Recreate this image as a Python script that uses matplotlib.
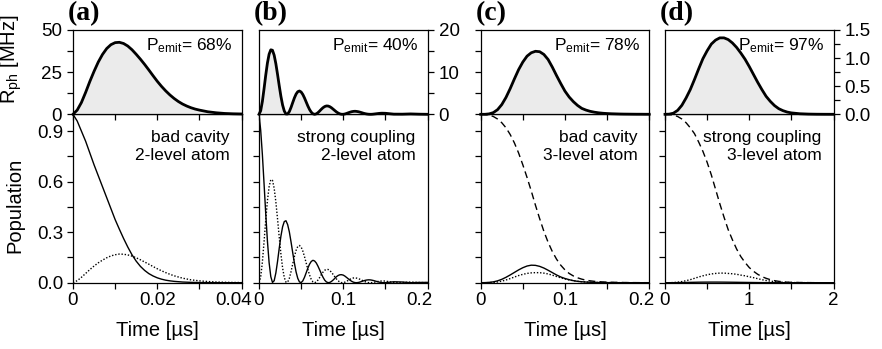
import matplotlib
matplotlib.use('Agg')
import matplotlib.pyplot as plt
from matplotlib.ticker import FixedLocator, NullFormatter
from matplotlib.transforms import ScaledTranslation

plt.rcParams['font.family'] = ['Liberation Sans', 'DejaVu Sans']
plt.rcParams['mathtext.fontset'] = 'custom'
plt.rcParams['mathtext.rm'] = 'Liberation Sans'
plt.rcParams['mathtext.it'] = 'Liberation Sans:italic'
plt.rcParams['mathtext.bf'] = 'Liberation Sans:bold'

# ---- (a) bad cavity, 2-level atom ----
t_a = [0.000, 0.001, 0.002, 0.003, 0.004, 0.005, 0.006, 0.007, 0.008, 0.009,
       0.010, 0.011, 0.012, 0.013, 0.014, 0.015, 0.016, 0.017, 0.018, 0.019,
       0.020, 0.021, 0.022, 0.023, 0.024, 0.025, 0.026, 0.027, 0.028, 0.029,
       0.030, 0.032, 0.034, 0.036, 0.038, 0.040]
rph_a = [0, 2.5, 7.0, 13.0, 19.5, 25.5, 31.0, 35.5, 39.0, 41.3,
         42.5, 42.7, 42.0, 40.5, 38.3, 35.6, 32.7, 29.6, 26.3, 22.9,
         19.6, 16.6, 13.9, 11.5, 9.4, 7.6, 6.1, 4.9, 3.9, 3.1,
         2.5, 1.5, 0.9, 0.5, 0.3, 0.2]
pe_a = [1.0, 0.96, 0.90, 0.84, 0.77, 0.70, 0.635, 0.57, 0.505, 0.44,
        0.375, 0.318, 0.263, 0.212, 0.166, 0.128, 0.097, 0.073, 0.054, 0.040,
        0.029, 0.021, 0.015, 0.011, 0.008, 0.006, 0.004, 0.003, 0.002, 0.0015,
        0.001, 0.0005, 0.0002, 0, 0, 0]
pc_a = [0, 0.012, 0.032, 0.055, 0.078, 0.099, 0.118, 0.134, 0.148, 0.159,
        0.166, 0.170, 0.169, 0.165, 0.158, 0.148, 0.136, 0.123, 0.110, 0.096,
        0.083, 0.071, 0.060, 0.050, 0.041, 0.034, 0.027, 0.022, 0.017, 0.014,
        0.011, 0.007, 0.004, 0.0025, 0.0015, 0.001]

# ---- (b) strong coupling, 2-level atom ----
t_b = [0.000, 0.002, 0.004, 0.006, 0.008, 0.010, 0.012, 0.014, 0.016, 0.018,
       0.020, 0.022, 0.024, 0.026, 0.028, 0.030, 0.032, 0.034, 0.036, 0.038,
       0.040, 0.042, 0.044, 0.046, 0.048, 0.050, 0.052, 0.054, 0.056, 0.058,
       0.060, 0.062, 0.064, 0.066, 0.068, 0.070, 0.072, 0.074, 0.076, 0.078,
       0.080, 0.082, 0.084, 0.086, 0.088, 0.090, 0.092, 0.094, 0.096, 0.098,
       0.100, 0.102, 0.104, 0.106, 0.108, 0.110, 0.112, 0.114, 0.116, 0.118,
       0.120, 0.122, 0.124, 0.126, 0.128, 0.130, 0.132, 0.134, 0.136, 0.138,
       0.140, 0.142, 0.144, 0.146, 0.148, 0.150, 0.160, 0.170, 0.180, 0.190,
       0.200]
rph_b = [0, 0.84, 3.05, 6.07, 9.29, 12.17, 14.26, 15.30, 15.19, 14.02,
         12.01, 9.48, 6.79, 4.27, 2.20, 0.78, 0.08, 0.08, 0.65, 1.62,
         2.77, 3.88, 4.79, 5.36, 5.53, 5.29, 4.71, 3.88, 2.92, 1.97,
         1.14, 0.51, 0.12, 0, 0.11, 0.39, 0.78, 1.20, 1.57, 1.84,
         1.98, 1.96, 1.81, 1.55, 1.22, 0.88, 0.55, 0.29, 0.10, 0.01,
         0.01, 0.08, 0.21, 0.36, 0.50, 0.62, 0.69, 0.72, 0.68, 0.61,
         0.50, 0.38, 0.25, 0.15, 0.07, 0.02, 0, 0.01, 0.05, 0.10,
         0.15, 0.20, 0.24, 0.26, 0.25, 0.24, 0.04, 0.03, 0.09, 0.03,
         0]
pe_b = [1.0, 0.906, 0.761, 0.588, 0.409, 0.247, 0.119, 0.036, 0.0014, 0.0116,
        0.058, 0.126, 0.204, 0.276, 0.332, 0.363, 0.368, 0.345, 0.302, 0.243,
        0.179, 0.117, 0.064, 0.026, 0.0046, 0.0005, 0.011, 0.032, 0.059, 0.087,
        0.110, 0.126, 0.133, 0.129, 0.117, 0.098, 0.076, 0.053, 0.032, 0.015,
        0.0047, 0.0002, 0.0015, 0.0074, 0.016, 0.026, 0.036, 0.043, 0.047, 0.0475,
        0.045, 0.039, 0.031, 0.023, 0.015, 0.0083, 0.0033, 0.0006, 0.0001, 0.0014,
        0.0042, 0.0077, 0.011, 0.014, 0.016, 0.017, 0.0167, 0.015, 0.0128, 0.0098,
        0.0068, 0.0041, 0.002, 0.0006, 0, 0.0002, 0.0055, 0.004, 0.0001, 0.0015,
        0.0019]
pc_b = [0, 0.034, 0.122, 0.243, 0.372, 0.487, 0.570, 0.612, 0.608, 0.561,
        0.480, 0.379, 0.271, 0.171, 0.088, 0.031, 0.0033, 0.0031, 0.026, 0.065,
        0.111, 0.155, 0.192, 0.215, 0.221, 0.212, 0.188, 0.155, 0.117, 0.079,
        0.046, 0.020, 0.0049, 0, 0.0043, 0.016, 0.031, 0.048, 0.063, 0.074,
        0.079, 0.0785, 0.0725, 0.062, 0.049, 0.035, 0.022, 0.011, 0.004, 0.0004,
        0.0004, 0.0034, 0.0084, 0.014, 0.020, 0.025, 0.028, 0.0286, 0.027, 0.024,
        0.020, 0.015, 0.010, 0.0059, 0.0026, 0.0006, 0, 0.0006, 0.002, 0.0041,
        0.0062, 0.0081, 0.0095, 0.0102, 0.0102, 0.0094, 0.0015, 0.0011, 0.0037, 0.0013,
        0.0001]

# ---- (c) bad cavity, 3-level atom ----
t_c = [0.000, 0.005, 0.010, 0.015, 0.020, 0.025, 0.030, 0.035, 0.040, 0.045,
       0.050, 0.055, 0.060, 0.065, 0.070, 0.075, 0.080, 0.085, 0.090, 0.095,
       0.100, 0.105, 0.110, 0.115, 0.120, 0.125, 0.130, 0.135, 0.140, 0.145,
       0.150, 0.155, 0.160, 0.165, 0.170, 0.175, 0.180, 0.185, 0.190, 0.195,
       0.200]
rph_c = [0, 0, 0.1, 0.4, 1.1, 2.3, 4.0, 6.1, 8.4, 10.6,
         12.4, 13.8, 14.6, 14.95, 14.85, 14.2, 13.0, 11.2, 9.2, 7.3,
         5.5, 4.1, 3.0, 2.1, 1.4, 1.0, 0.7, 0.5, 0.35, 0.25,
         0.18, 0.13, 0.1, 0.07, 0.05, 0.04, 0.03, 0.02, 0.02, 0.01,
         0.01]
pe_c = [0, 0.0005, 0.002, 0.005, 0.011, 0.02, 0.032, 0.046, 0.061, 0.076,
        0.089, 0.099, 0.104, 0.103, 0.097, 0.087, 0.074, 0.06, 0.046, 0.034,
        0.025, 0.018, 0.012, 0.008, 0.0055, 0.0038, 0.0025, 0.0017, 0.0011, 0.0007,
        0.0005, 0.0003, 0.0002, 0.0001, 0, 0, 0, 0, 0, 0,
        0]
pc_c = [0, 0, 0.0004, 0.0016, 0.0044, 0.0092, 0.016, 0.0244, 0.0336, 0.0424,
        0.0496, 0.0552, 0.0584, 0.0598, 0.0594, 0.0568, 0.052, 0.0448, 0.0368, 0.0292,
        0.022, 0.0164, 0.012, 0.0084, 0.0056, 0.004, 0.0028, 0.002, 0.0014, 0.001,
        0.0007, 0.0005, 0.0004, 0.0003, 0.0002, 0.0002, 0.0001, 0.0001, 0, 0,
        0]
pg_c = [1.0, 0.999, 0.995, 0.987, 0.972, 0.95, 0.92, 0.88, 0.83, 0.77,
        0.70, 0.625, 0.545, 0.46, 0.38, 0.305, 0.24, 0.185, 0.14, 0.104,
        0.076, 0.055, 0.04, 0.029, 0.021, 0.015, 0.011, 0.008, 0.006, 0.0045,
        0.0035, 0.0027, 0.002, 0.0015, 0.0011, 0.0008, 0.0006, 0.0004, 0.0003, 0.0002,
        0.0001]

# ---- (d) strong coupling, 3-level atom ----
t_d = [0.00, 0.05, 0.10, 0.15, 0.20, 0.25, 0.30, 0.35, 0.40, 0.45,
       0.50, 0.55, 0.60, 0.65, 0.70, 0.75, 0.80, 0.85, 0.90, 0.95,
       1.00, 1.05, 1.10, 1.15, 1.20, 1.25, 1.30, 1.35, 1.40, 1.45,
       1.50, 1.60, 1.70, 1.80, 1.90, 2.00]
rph_d = [0, 0.003, 0.02, 0.07, 0.16, 0.29, 0.44, 0.62, 0.81, 0.99,
         1.13, 1.25, 1.32, 1.36, 1.36, 1.33, 1.27, 1.19, 1.09, 0.98,
         0.85, 0.71, 0.57, 0.44, 0.32, 0.23, 0.155, 0.10, 0.065, 0.04,
         0.025, 0.01, 0.004, 0.0015, 0.0005, 0.0002]
pe_d = [0, 0, 0.0002, 0.0005, 0.001, 0.0015, 0.002, 0.0025, 0.003, 0.0033,
        0.0035, 0.0036, 0.0036, 0.0035, 0.0033, 0.003, 0.0027, 0.0024, 0.002, 0.0017,
        0.0014, 0.0011, 0.0008, 0.0006, 0.0004, 0.0003, 0.0002, 0.0001, 0, 0,
        0, 0, 0, 0, 0, 0]
pc_d = [0, 0.0001, 0.0008, 0.003, 0.0067, 0.012, 0.018, 0.026, 0.034, 0.041,
        0.047, 0.052, 0.055, 0.057, 0.057, 0.055, 0.053, 0.050, 0.045, 0.041,
        0.035, 0.030, 0.024, 0.018, 0.013, 0.0096, 0.0065, 0.0042, 0.0027, 0.0017,
        0.001, 0.0004, 0.0002, 0.0001, 0, 0]
pg_d = [1.0, 0.999, 0.995, 0.987, 0.972, 0.95, 0.92, 0.885, 0.835, 0.78,
        0.715, 0.64, 0.555, 0.47, 0.39, 0.315, 0.255, 0.2, 0.155, 0.12,
        0.09, 0.068, 0.05, 0.036, 0.026, 0.018, 0.012, 0.008, 0.005, 0.003,
        0.002, 0.001, 0.0005, 0, 0, 0]

panel_names = ['(a)', '(b)', '(c)', '(d)']
p_emit = ['68%', '40%', '78%', '97%']
regime_text = ['bad cavity\n2-level atom', 'strong coupling\n2-level atom',
               'bad cavity\n3-level atom', 'strong coupling\n3-level atom']
x_max = [0.04, 0.2, 0.2, 2]
x_major = [[0, 0.02, 0.04], [0, 0.1, 0.2], [0, 0.1, 0.2], [0, 1, 2]]
x_minor = [[0.01, 0.03], [0.05, 0.15], [0.05, 0.15], [0.5, 1.5]]
x_labels = [['0', '0.02', '0.04'], ['0', '0.1', '0.2'], ['0', '0.1', '0.2'], ['0', '1', '2']]
rph_max = [50, 20, 20, 1.5]
rph_major = [[0, 25, 50], [0, 10, 20], [0, 10, 20], [0, 0.5, 1.0, 1.5]]
rph_minor = [[12.5, 37.5], [5, 15], [5, 15], [0.25, 0.75, 1.25]]
rph_labels = [['0', '25', '50'], ['0', '10', '20'], None, ['0.0', '0.5', '1.0', '1.5']]
pop_major = [0, 0.3, 0.6, 0.9]
pop_minor = [0.15, 0.45, 0.75]
pop_labels = ['0.0', '0.3', '0.6', '0.9']

times = [t_a, t_b, t_c, t_d]
rates = [rph_a, rph_b, rph_c, rph_d]
excited = [pe_a, pe_b, pe_c, pe_d]
cavity = [pc_a, pc_b, pc_c, pc_d]
ground = [None, None, pg_c, pg_d]

W, H = 882, 349
fig = plt.figure(figsize=(W / 100, H / 100), dpi=100)

lefts = [73, 259, 480.7, 665]
width = 168.5
top_y0, top_y1 = 30, 114.3
bot_y1 = 282.7

TICK = 13.5
LABEL = 14.5
LW_AX = 0.9

def style_ticks(ax):
    ax.tick_params(which='both', direction='out', length=4, width=LW_AX,
                   labelsize=TICK, pad=3)
    for s in ax.spines.values():
        s.set_linewidth(LW_AX)

bottom_axes = []
for i in range(4):
    x0 = lefts[i] / W
    w = width / W
    ax_b = fig.add_axes([x0, 1 - bot_y1 / H, w, (bot_y1 - top_y1) / H])
    ax_t = fig.add_axes([x0, 1 - top_y1 / H, w, (top_y1 - top_y0) / H])
    ax_b.set_facecolor('none')
    bottom_axes.append(ax_b)

    # photon emission rate
    ax_t.fill_between(times[i], 0, rates[i], color='#ebebeb', lw=0)
    ax_t.plot(times[i], rates[i], color='black', lw=2.0, clip_on=False,
              solid_joinstyle='round', zorder=3)
    ax_t.set_xlim(0, x_max[i])
    ax_t.set_ylim(0, rph_max[i])
    ax_t.xaxis.set_major_locator(FixedLocator(x_major[i]))
    ax_t.xaxis.set_minor_locator(FixedLocator(x_minor[i]))
    ax_t.xaxis.set_major_formatter(NullFormatter())
    ax_t.yaxis.set_major_locator(FixedLocator(rph_major[i]))
    ax_t.yaxis.set_minor_locator(FixedLocator(rph_minor[i]))
    style_ticks(ax_t)
    if i in (1, 3):
        ax_t.yaxis.tick_right()
        ax_t.yaxis.set_ticklabels(rph_labels[i])
    elif i == 0:
        ax_t.yaxis.set_ticklabels(rph_labels[i])
    else:
        ax_t.yaxis.set_major_formatter(NullFormatter())
    ax_t.tick_params(axis='y', pad=4)
    ax_t.text(0.945, 0.76, r'P$_{\mathrm{emit}}$= ' + p_emit[i], transform=ax_t.transAxes,
              ha='right', va='baseline', fontsize=12.5)

    # populations
    ax_b.plot(times[i], excited[i], color='black', lw=1.0)
    ax_b.plot(times[i], cavity[i], color='black', lw=1.0, linestyle=(0, (1, 1.3)))
    if ground[i] is not None:
        ax_b.plot(times[i], ground[i], color='black', lw=1.0, linestyle=(0, (5, 3)))
    ax_b.set_xlim(0, x_max[i])
    ax_b.set_ylim(0, 1.0)
    ax_b.xaxis.set_major_locator(FixedLocator(x_major[i]))
    ax_b.xaxis.set_minor_locator(FixedLocator(x_minor[i]))
    ax_b.xaxis.set_ticklabels(x_labels[i])
    ax_b.yaxis.set_major_locator(FixedLocator(pop_major))
    ax_b.yaxis.set_minor_locator(FixedLocator(pop_minor))
    style_ticks(ax_b)
    if i == 0:
        ax_b.yaxis.set_ticklabels(pop_labels)
    else:
        ax_b.yaxis.set_major_formatter(NullFormatter())
    ax_b.set_xlabel('Time [µs]', fontsize=LABEL, labelpad=8)
    # anchored at the baseline of the second line
    ax_b.text(0.93, 0.731, regime_text[i], transform=ax_b.transAxes,
              ha='right', va='baseline', fontsize=12.5, multialignment='right')

    if i == 0:
        ax_t.set_ylabel(r'R$_{\mathrm{ph}}$ [MHz]', fontsize=LABEL)
        ax_t.yaxis.set_label_coords(-0.29, 0.66)
        ax_b.set_ylabel('Population', fontsize=LABEL)
        ax_b.yaxis.set_label_coords(-0.29, 0.46)

    fig.text((lefts[i] - 5) / W, 1 - 1 / H, panel_names[i], ha='left', va='top',
             fontsize=20, fontweight='bold', family='Liberation Serif')

# nudge the last time label of (a)-(c) left so it clears the next panel's "0"
fig.canvas.draw()
shift = ScaledTranslation(-8 / 100, 0, fig.dpi_scale_trans)
for ax in bottom_axes[:3]:
    lab = ax.xaxis.get_major_ticks()[-1].label1
    lab.set_transform(lab.get_transform() + shift)

fig.savefig('out.png', dpi=100)
